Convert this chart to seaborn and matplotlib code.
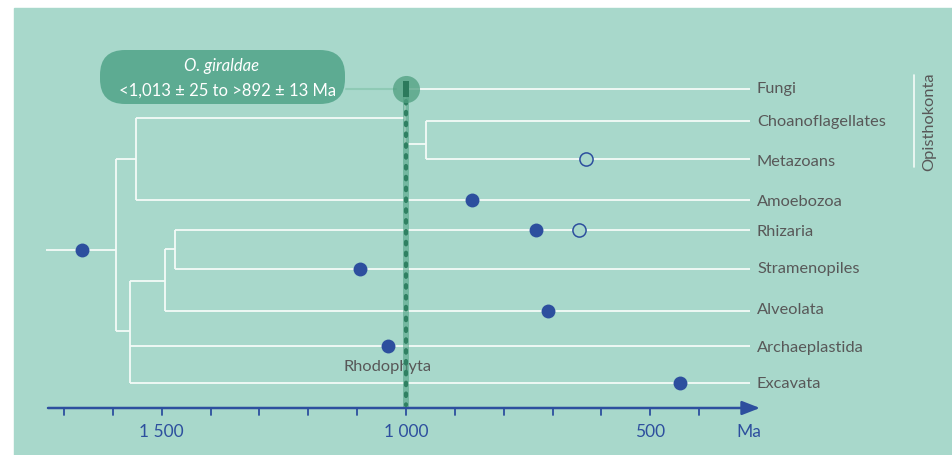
import matplotlib.pyplot as plt
import seaborn as sns
import pandas as pd
from matplotlib.patches import Rectangle, FancyBboxPatch

# taxa and their row positions (from top)
taxa = ['Fungi', 'Choanoflagellates', 'Metazoans', 'Amoebozoa', 'Rhizaria',
        'Stramenopiles', 'Alveolata', 'Archaeplastida', 'Excavata']
row_y = [90, 122, 160, 201, 231, 270, 312, 347, 384]
label_y = [89, 122, 162, 202, 232, 269, 310, 348, 384]

# node ages (Ma)
tip_age = 296
root_start = 1737
root_node = 1593
upper_node = 1553
opistho_node = 1002
choano_meta_node = 959
lower_node = 1565
rhiz_alv_node = 1493
rhiz_stram_node = 1473

# fossil ages (Ma)
fossil_taxa = ['root', 'Amoebozoa', 'Rhizaria', 'Stramenopiles', 'Alveolata',
               'Archaeplastida', 'Excavata']
fossil_age = [1663, 865, 734, 1094, 709, 1037, 439]
fossil_y = [251, 201, 231, 270, 312, 347, 384]
open_taxa = ['Metazoans', 'Rhizaria']
open_age = [632, 646]
open_y = [160, 231]

giraldae_age = 1000
tick_ages = list(range(1700, 300, -100))
tick_labels = {1500: '1 500', 1000: '1 000', 500: '500'}

BG = '#a8d8cb'
WHITE = '#f4fbf8'
BLUE = '#2d4f9e'
GREY = '#585858'
GREEN = '#5dab92'

sns.set_theme(style='white')
plt.rcParams['font.family'] = ['Lato', 'DejaVu Sans']

fig = plt.figure(figsize=(9.52, 4.56), dpi=100)
ax = fig.add_axes([0, 0, 1, 1])
px = 0.4886  # pixels per Ma
ax.set_xlim(1000 + 406 / px, 1000 - 546 / px)
ax.set_ylim(456, 0)
ax.axis('off')

ax.add_patch(Rectangle((14 / 952, 0), 1, (456 - 9) / 456, transform=ax.transAxes,
                       color=BG, zorder=0))

lw = 1.3
def seg(x0, x1, y0, y1):
    ax.plot([x0, x1], [y0, y1], color=WHITE, lw=lw, solid_capstyle='butt', zorder=2)

# tree
seg(root_start, root_node, 251, 251)
seg(root_node, root_node, 160, 332)
seg(root_node, upper_node, 160, 160)
seg(root_node, lower_node, 332, 332)
seg(upper_node, upper_node, 119, 201)
seg(upper_node, opistho_node, 119, 119)
seg(upper_node, tip_age, 201, 201)
seg(opistho_node, opistho_node, row_y[0], 145)
seg(opistho_node, tip_age, row_y[0], row_y[0])
seg(opistho_node, choano_meta_node, 145, 145)
seg(choano_meta_node, choano_meta_node, row_y[1], row_y[2])
seg(choano_meta_node, tip_age, row_y[1], row_y[1])
seg(choano_meta_node, tip_age, row_y[2], row_y[2])
seg(lower_node, lower_node, 282, row_y[8])
seg(lower_node, rhiz_alv_node, 282, 282)
seg(lower_node, tip_age, row_y[7], row_y[7])
seg(lower_node, tip_age, row_y[8], row_y[8])
seg(rhiz_alv_node, rhiz_alv_node, 250, row_y[6])
seg(rhiz_alv_node, rhiz_stram_node, 250, 250)
seg(rhiz_alv_node, tip_age, row_y[6], row_y[6])
seg(rhiz_stram_node, rhiz_stram_node, row_y[4], row_y[5])
seg(rhiz_stram_node, tip_age, row_y[4], row_y[4])
seg(rhiz_stram_node, tip_age, row_y[5], row_y[5])

# taxon labels
for name, y in zip(taxa, label_y):
    ax.text(1000 - 351 / px, y, name, color=GREY, fontsize=11.8, va='center', ha='left')
ax.text(1000 - (388 - 406) / px, 367, 'Rhodophyta', color=GREY, fontsize=11.8,
        va='center', ha='center')

# Opisthokonta bracket
ax.plot([1000 - 508 / px] * 2, [76, 168], color=WHITE, lw=1.2, zorder=2)
ax.text(1000 - 523 / px, 122, 'Opisthokonta', color=GREY, fontsize=11.8,
        rotation=90, va='center', ha='center')

# green band for O. giraldae
ax.add_patch(Rectangle((giraldae_age + 3 / px, 82), -6 / px, 409 - 82,
                       color='#4a9e80', alpha=0.55, lw=0, zorder=3))
ax.plot([giraldae_age] * 2, [102, 406], color='#2f8062', lw=3.0,
        linestyle=(0, (0.6, 2.0)), dash_capstyle='round', zorder=4)
ax.plot([1000 + 10 / px, 1000 + 60 / px], [90, 90], color='#8fcab5', lw=1.5, zorder=2)
ax.scatter([giraldae_age], [90], s=380, color='#4f9f80', alpha=0.75, lw=0, zorder=4)
ax.add_patch(Rectangle((giraldae_age + 3 / px, 82), -6 / px, 16,
                       color='#2c7a5c', lw=0, zorder=5))
ax.add_patch(FancyBboxPatch((1.00, (456 - 105) / 100), 2.45, 0.54,
                            boxstyle='round,pad=0,rounding_size=0.25',
                            transform=fig.dpi_scale_trans, color=GREEN, lw=0, zorder=5))
ax.text(1000 + (406 - 222) / px, 66, 'O. giraldae', color='white', fontsize=12,
        style='italic', ha='center', va='center', zorder=6)
ax.text(1000 + (406 - 228) / px, 91, '<1,013 ± 25 to >892 ± 13 Ma', color='white',
        fontsize=12, ha='center', va='center', zorder=6)

# fossil dots
fossils = pd.DataFrame({'taxon': fossil_taxa, 'age': fossil_age, 'y': fossil_y})
sns.scatterplot(data=fossils, x='age', y='y', ax=ax, s=100, color=BLUE,
                edgecolor=BLUE, linewidth=0, zorder=6, legend=False)
opens = pd.DataFrame({'taxon': open_taxa, 'age': open_age, 'y': open_y})
sns.scatterplot(data=opens, x='age', y='y', ax=ax, s=90, facecolor=BG,
                edgecolor=BLUE, linewidth=1.1, zorder=6, legend=False)

# time axis
ax.annotate('', xy=(1000 - 354 / px, 409), xytext=(1000 + 358 / px, 409),
            arrowprops=dict(arrowstyle='-|>,head_length=0.9,head_width=0.35',
                            color=BLUE, lw=1.8, shrinkA=0, shrinkB=0), zorder=3)
for t in tick_ages:
    ax.plot([t, t], [409, 416], color=BLUE, lw=1.3, zorder=3)
    if t in tick_labels:
        ax.text(t, 432, tick_labels[t], color=BLUE, fontsize=12.5, ha='center', va='center')
ax.text(1000 - (749 - 406) / px, 432, 'Ma', color=BLUE, fontsize=12.5, ha='center',
        va='center')

plt.savefig('out.png', dpi=100)
